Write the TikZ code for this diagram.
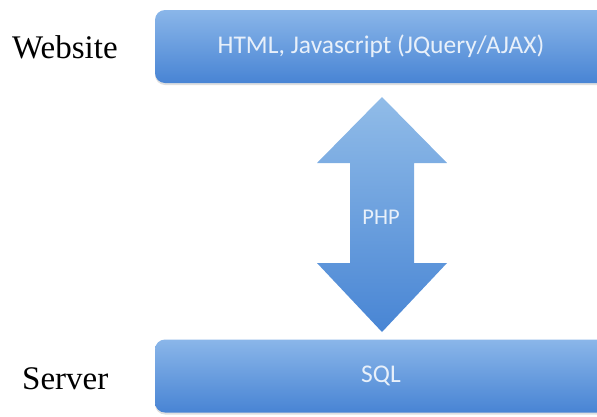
\documentclass[tikz,border=0pt]{standalone}
\usepackage{fontspec}
\setmainfont{Liberation Serif}
\newfontfamily\calfont{Carlito}
\usetikzlibrary{shadows}
\definecolor{boxtop}{RGB}{138,182,233}
\definecolor{boxbot}{RGB}{72,132,212}
\definecolor{arrtop}{RGB}{145,188,232}
\definecolor{arrbot}{RGB}{72,133,212}
\definecolor{boxtext}{RGB}{232,240,250}
\tikzset{
  layerbox/.style={rounded corners=10pt, top color=boxtop, bottom color=boxbot,
    draw=none, minimum width=452pt, minimum height=73pt, inner sep=0pt,
    drop shadow={opacity=0.25, shadow xshift=0pt, shadow yshift=-2pt},
    text=boxtext, font=\calfont\fontsize{25.5}{30}\selectfont},
  sidelabel/.style={font=\fontsize{33}{38}\selectfont, anchor=base west, inner sep=0pt},
  arrowtext/.style={text=boxtext, font=\calfont\fontsize{22.5}{26}\selectfont}
}
\begin{document}
\begin{tikzpicture}[x=1pt,y=-1pt]
\useasboundingbox (0,0) rectangle (597,416);
\clip (0,0) rectangle (597,416);
\node[layerbox] (web) at (381,46.5) {HTML, Javascript (JQuery/AJAX)};
\node[layerbox] (srv) at (381,376) {SQL};
\node[sidelabel] (lweb) at (12,58) {Website};
\node[sidelabel] (lsrv) at (22,389) {Server};
\shade[top color=arrtop, bottom color=arrbot]
  (382,97) -- (447,163) -- (414,163) -- (414,263) -- (447,263) -- (382,332)
  -- (317,263) -- (350,263) -- (350,163) -- (317,163) -- cycle;
\node[arrowtext] (php) at (381,217) {PHP};
\end{tikzpicture}
\end{document}
